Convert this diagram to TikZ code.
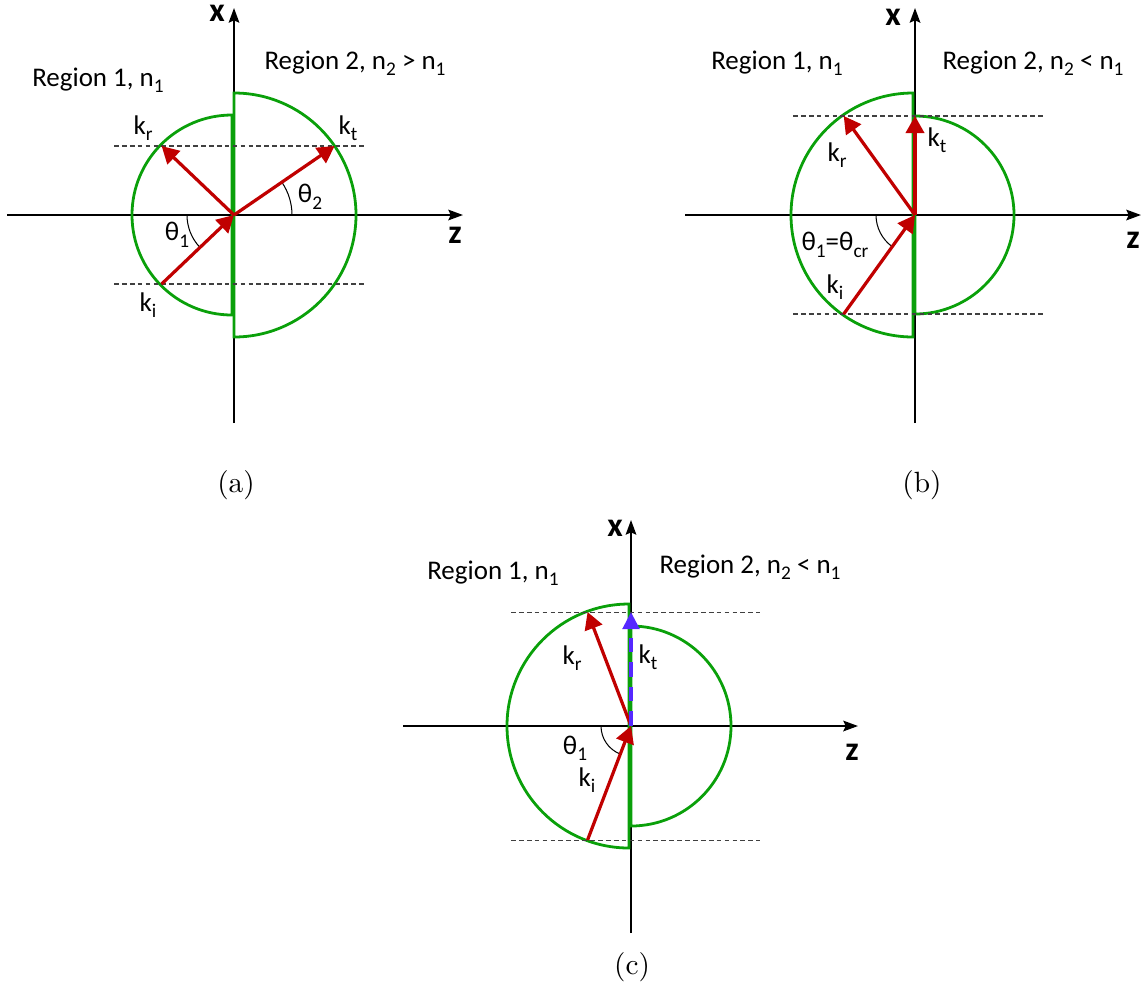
\documentclass[tikz,border=0pt]{standalone}
\usepackage{fontspec}
\newfontfamily\calib{Carlito}
\usepackage{xcolor}
\usepackage{tikz}
\usetikzlibrary{arrows.meta, calc}

\definecolor{wavered}{RGB}{192,0,0}
\definecolor{surfgreen}{RGB}{10,160,10}
\definecolor{evblue}{RGB}{85,40,255}
% lowered subscript as in the drawing
\newcommand{\sub}[1]{\raisebox{-2.2pt}{\fontsize{6.6}{7}\selectfont #1}}

\begin{document}
\begin{tikzpicture}[x=0.012cm, y=0.012cm,
    axisline/.style={line width=0.75pt, -{Stealth[length=5pt, width=3.6pt, inset=0.8pt]}},
    wave/.style={line width=1.1pt, draw=wavered, -{Triangle[length=5.8pt, width=6.2pt]}},
    evwave/.style={line width=1.3pt, draw=evblue, dash pattern=on 5pt off 3.4pt, -{Triangle[length=5.8pt, width=5.6pt]}},
    surf/.style={line width=0.95pt, draw=surfgreen},
    guide/.style={line width=0.35pt, draw=black!75, dash pattern=on 1.6pt off 1.1pt},
    anglearc/.style={line width=0.35pt},
    lbl/.style={font=\calib\fontsize{9.2}{11}\selectfont, inner sep=0pt},
    axlbl/.style={font=\calib\bfseries\fontsize{11.5}{13}\selectfont, inner sep=0pt},
    subcap/.style={font=\normalsize, inner sep=0pt}]

    \useasboundingbox (0,0) rectangle (1142,-987);

    % =================================================================
    % (a) n2 > n1 : wave is refracted into region 2
    % =================================================================
    \begin{scope}[shift={(234,-215)}]
    \def\rA{100}  % radius in region 1
    \def\rB{122}  % radius in region 2
    \def\hgt{69}  % common tangential component
    \coordinate (Oa) at (0,0);
    \coordinate (xa0) at (0,-208);
    \coordinate (xa1) at (0,207);
    \coordinate (za0) at (-227,0);
    \coordinate (za1) at (229,0);
    \coordinate (Kra) at ({180-asin(\hgt/\rA)}:\rA);
    \coordinate (Kia) at ({180+asin(\hgt/\rA)}:\rA);
    \coordinate (Kta) at ({asin(\hgt/\rB)}:\rB);

    % axes
    \draw[axisline] (xa0) -- (xa1);
    \draw[axisline] (za0) -- (za1);

    % half circles
    \draw[surf] (-2,\rA) arc[start angle=90, end angle=270, radius=\rA] -- cycle;
    \draw[surf] (0,\rB) arc[start angle=90, end angle=-90, radius=\rB] -- cycle;

    % dashed guides
    \draw[guide] (-120,\hgt) -- (131,\hgt);
    \draw[guide] (-120,-\hgt) -- (131,-\hgt);

    % angles
    \draw[anglearc] ([shift={(180:47)}]Oa) arc[start angle=180, end angle={180+asin(\hgt/\rA)}, radius=47];
    \draw[anglearc] ([shift={(0:58)}]Oa) arc[start angle=0, end angle={asin(\hgt/\rB)}, radius=58];

    % wave vectors
    \draw[wave] (Oa) -- (Kra);
    \draw[wave] (Oa) -- (Kta);
    \draw[wave] (Kia) -- (Oa);

    % labels
    \node[axlbl] (xlabA) at (-17,202) {x};
    \node[axlbl] (zlabA) at (221,-20) {z};
    \node[lbl] (reg1A) at (-136,135) {Region 1, n\sub{1}};
    \node[lbl] (reg2A) at (121,152) {Region 2, n\sub{2} > n\sub{1}};
    \node[lbl] (krA) at (-91,87) {k\sub{r}};
    \node[lbl] (ktA) at (114,87) {k\sub{t}};
    \node[lbl] (kiA) at (-86,-90) {k\sub{i}};
    \node[lbl] (th1A) at (-57,-20) {θ\sub{1}};
    \node[lbl] (th2A) at (76,18) {θ\sub{2}};
    \node[subcap] (capA) at (2,-270) {(a)};
    \end{scope}

    % =================================================================
    % (b) n2 < n1 : incidence at the critical angle
    % =================================================================
    \begin{scope}[shift={(915,-215)}]
    \def\rA{122}
    \def\rB{99}
    \def\hgt{99}
    \coordinate (Ob) at (0,0);
    \coordinate (xb0) at (0,-208);
    \coordinate (xb1) at (0,207);
    \coordinate (zb0) at (-230,0);
    \coordinate (zb1) at (226,0);
    \coordinate (Krb) at ({180-asin(\hgt/\rA)}:\rA);
    \coordinate (Kib) at ({180+asin(\hgt/\rA)}:\rA);
    \coordinate (Ktb) at (0,\hgt);

    \draw[axisline] (xb0) -- (xb1);
    \draw[axisline] (zb0) -- (zb1);

    \draw[surf] (-2,\rA) arc[start angle=90, end angle=270, radius=\rA] -- cycle;
    \draw[surf] (0,\rB) arc[start angle=90, end angle=-90, radius=\rB] -- cycle;

    \draw[guide] (-122,\hgt) -- (128,\hgt);
    \draw[guide] (-122,-\hgt) -- (128,-\hgt);

    \draw[anglearc] ([shift={(180:39)}]Ob) arc[start angle=180, end angle={180+asin(\hgt/\rA)}, radius=39];

    \draw[wave] (Ob) -- (Krb);
    \draw[wave] (Ob) -- (Ktb);
    \draw[wave] (Kib) -- (Ob);

    \node[axlbl] (xlabB) at (-22,198) {x};
    \node[axlbl] (zlabB) at (218,-25) {z};
    \node[lbl] (reg1B) at (-138,152) {Region 1, n\sub{1}};
    \node[lbl] (reg2B) at (118,152) {Region 2, n\sub{2} < n\sub{1}};
    \node[lbl] (krB) at (-78,60) {k\sub{r}};
    \node[lbl] (ktB) at (22,75) {k\sub{t}};
    \node[lbl] (th1B) at (-80,-30) {θ\sub{1}=θ\sub{cr}};
    \node[lbl] (kiB) at (-80,-72) {k\sub{i}};
    \node[subcap] (capB) at (7,-270) {(b)};
    \end{scope}

    % =================================================================
    % (c) n2 < n1 : beyond the critical angle, evanescent k_t
    % =================================================================
    \begin{scope}[shift={(631,-726)}]
    \def\rA{122}
    \def\rB{100}
    \def\hgt{114}
    \coordinate (Oc) at (0,0);
    \coordinate (xc0) at (0,-207);
    \coordinate (xc1) at (0,206);
    \coordinate (zc0) at (-228,0);
    \coordinate (zc1) at (227,0);
    \coordinate (Krc) at ({180-asin(\hgt/\rA)}:\rA);
    \coordinate (Kic) at ({180+asin(\hgt/\rA)}:\rA);
    \coordinate (Ktc) at (0,\hgt);

    \draw[axisline] (xc0) -- (xc1);
    \draw[axisline] (zc0) -- (zc1);

    \draw[surf] (-2,\rA) arc[start angle=90, end angle=270, radius=\rA] -- cycle;
    \draw[surf] (0,\rB) arc[start angle=90, end angle=-90, radius=\rB] -- cycle;

    \draw[guide] (-120,\hgt) -- (129,\hgt);
    \draw[guide] (-120,-\hgt) -- (129,-\hgt);

    \draw[anglearc] ([shift={(180:30)}]Oc) arc[start angle=180, end angle={180+asin(\hgt/\rA)}, radius=30];

    \draw[wave] (Oc) -- (Krc);
    \draw[evwave] (Oc) -- (Ktc);
    \draw[wave] (Kic) -- (Oc);

    \node[axlbl] (xlabC) at (-16,198) {x};
    \node[axlbl] (zlabC) at (221,-26) {z};
    \node[lbl] (reg1C) at (-138,153) {Region 1, n\sub{1}};
    \node[lbl] (reg2C) at (119,159) {Region 2, n\sub{2} < n\sub{1}};
    \node[lbl] (krC) at (-59,68) {k\sub{r}};
    \node[lbl] (ktC) at (17,69) {k\sub{t}};
    \node[lbl] (th1C) at (-56,-22) {θ\sub{1}};
    \node[lbl] (kiC) at (-44,-54) {k\sub{i}};
    \node[subcap] (capC) at (1,-241) {(c)};
    \end{scope}

\end{tikzpicture}
\end{document}
